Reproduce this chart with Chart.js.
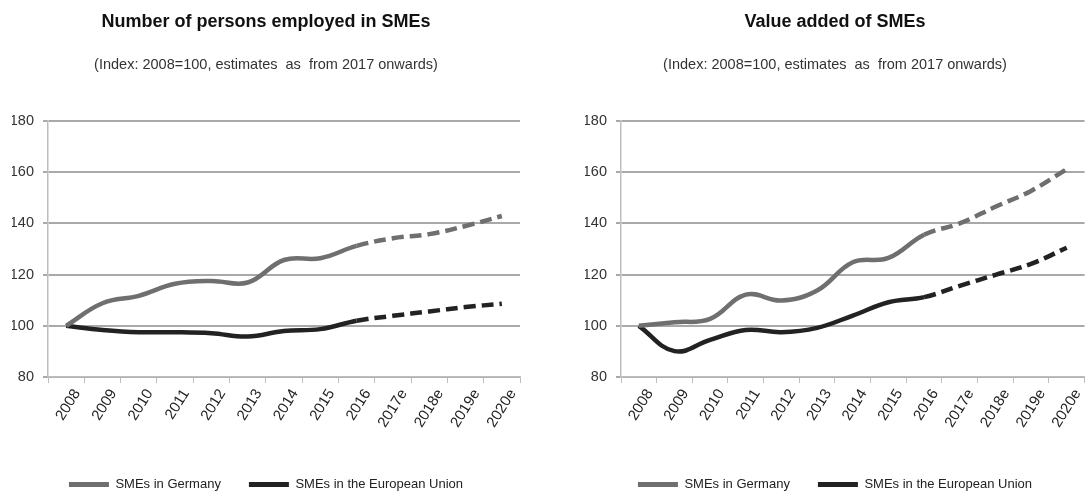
<!DOCTYPE html>
<html>
<head>
<meta charset="utf-8">
<script src="https://cdn.jsdelivr.net/npm/chart.js@4.4.1/dist/chart.umd.min.js"></script>
<style>
    html, body { margin: 0; padding: 0; background: #fff; overflow: hidden; }
    .panel { position: absolute; top: 0; height: 501px; }
    #leftPanel { left: 0; width: 540px; }
    #rightPanel { left: 570px; width: 515px; }
</style>
</head>
<body>
<div class="panel" id="leftPanel"><canvas id="employedChart"></canvas></div>
<div class="panel" id="rightPanel"><canvas id="valueChart"></canvas></div>
<script>
const years = ['2008', '2009', '2010', '2011', '2012', '2013', '2014', '2015', '2016', '2017e', '2018e', '2019e', '2020e'];
const yTicks = [80, 100, 120, 140, 160, 180];

const employedGermany = [100, 108.8, 111.7, 116.4, 117.5, 116.9, 125.7, 126.4, 131.2, 134.2, 135.8, 139.0, 142.9];
const employedEU = [100, 98.4, 97.5, 97.5, 97.1, 95.8, 98.0, 98.7, 102.0, 103.9, 105.6, 107.3, 108.6];

const valueGermany = [100, 101.4, 102.7, 112.2, 109.9, 113.8, 124.8, 126.5, 135.6, 140.0, 146.5, 152.7, 161.2];
const valueEU = [100, 90.1, 94.5, 98.4, 97.5, 99.2, 104.0, 109.2, 111.2, 115.6, 119.9, 124.2, 130.5];

const lastActual = 8; // 2016, estimates after that are dashed
const subtitleText = '(Index: 2008=100, estimates  as  from 2017 onwards)';

Chart.defaults.font.family = "'Liberation Sans Narrow', 'Arial Narrow', 'Liberation Sans', Arial, sans-serif";
Chart.defaults.color = '#222';

function makeChart(id, title, germany, eu, pad) {
    const dashAfter = ctx => ctx.p0DataIndex >= lastActual ? [12, 6] : undefined;
    return new Chart(document.getElementById(id), {
        type: 'line',
        data: {
            labels: years,
            datasets: [
                { label: 'SMEs in Germany', data: germany, borderColor: '#6f6f6f', backgroundColor: '#6f6f6f',
                  borderWidth: 4.5, tension: 0.4, pointRadius: 0, segment: { borderDash: dashAfter } },
                { label: 'SMEs in the European Union', data: eu, borderColor: '#222', backgroundColor: '#222',
                  borderWidth: 4.5, tension: 0.4, pointRadius: 0, segment: { borderDash: dashAfter } }
            ]
        },
        options: {
            responsive: true,
            maintainAspectRatio: false,
            animation: false,
            layout: { padding: pad },
            plugins: {
                title: { display: true, text: title, color: '#111', font: { size: 18, weight: 'bold' }, padding: { top: 11, bottom: 12 } },
                subtitle: { display: true, text: subtitleText, color: '#333', font: { size: 14.5 }, padding: { top: 12, bottom: 47 } },
                legend: {
                    position: 'bottom',
                    labels: {
                        boxWidth: 40, boxHeight: 5, padding: 28, color: '#222', font: { size: 13 },
                        generateLabels: chart => Chart.defaults.plugins.legend.labels.generateLabels(chart)
                            .map(l => ({ ...l, lineWidth: 0 }))
                    }
                },
                tooltip: { enabled: false }
            },
            scales: {
                x: {
                    offset: true,
                    grid: { offset: true, drawOnChartArea: false, drawTicks: true, tickLength: 6, color: '#bdbdbd' },
                    border: { color: '#bdbdbd', width: 1.5 },
                    ticks: { minRotation: 58, maxRotation: 58, color: '#222', font: { size: 15 }, padding: 3, labelOffset: 11 },
                    afterFit: s => { s.height = 73; }
                },
                y: {
                    min: 80, max: 180,
                    afterBuildTicks: s => { s.ticks = yTicks.map(v => ({ value: v })); },
                    grid: { color: '#a9a9a9', lineWidth: 2, tickLength: 5 },
                    border: { color: '#bdbdbd', width: 1.5 },
                    ticks: { color: '#333', font: { size: 14.5 }, padding: 9 },
                    afterFit: s => { s.width = 36; }
                }
            }
        }
    });
}

makeChart('employedChart', 'Number of persons employed in SMEs', employedGermany, employedEU,
    { left: 12, right: 20, top: 0, bottom: 0 });
makeChart('valueChart', 'Value added of SMEs', valueGermany, valueEU,
    { left: 15, right: 0, top: 0, bottom: 0 });
</script>
</body>
</html>
